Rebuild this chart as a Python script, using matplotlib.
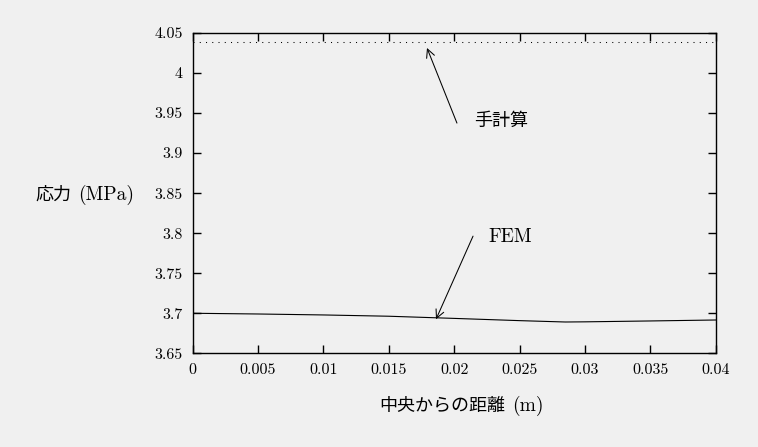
import matplotlib.pyplot as plt

# FEM の応力分布 (中央からの距離 m, 応力 MPa)
dist_m = [0.0, 0.005, 0.01, 0.015, 0.02, 0.025, 0.0285, 0.03, 0.035, 0.04]
fem_mpa = [3.7000, 3.6991, 3.6979, 3.6963, 3.6936, 3.6908, 3.6891, 3.6893, 3.6904, 3.6916]
hand_mpa = 4.0389  # 手計算

xticks = [0, 0.005, 0.01, 0.015, 0.02, 0.025, 0.03, 0.035, 0.04]
xticklabels = ['0', '0.005', '0.01', '0.015', '0.02', '0.025', '0.03', '0.035', '0.04']
yticks = [3.65, 3.7, 3.75, 3.8, 3.85, 3.9, 3.95, 4.0, 4.05]
yticklabels = ['3.65', '3.7', '3.75', '3.8', '3.85', '3.9', '3.95', '4', '4.05']

num_font = ['cmr10', 'DejaVu Serif']
jp_font = ['Noto Sans CJK JP', 'DejaVu Sans']

fig = plt.figure(figsize=(7.58, 4.47), dpi=100, facecolor='#f0f0f0')
ax = fig.add_axes([0.2542, 0.2096, 0.690, 0.7166])
ax.set_facecolor('#f0f0f0')

ax.plot(dist_m, fem_mpa, color='black', linewidth=0.8)
ax.plot([dist_m[0], dist_m[-1]], [hand_mpa, hand_mpa], color='black',
        linewidth=0.75, linestyle=(0, (1, 5)))

ax.set_xlim(0, 0.04)
ax.set_ylim(3.65, 4.05)
ax.set_xticks(xticks)
ax.set_xticklabels(xticklabels, family=num_font, fontsize=11.5)
ax.set_yticks(yticks)
ax.set_yticklabels(yticklabels, family=num_font, fontsize=11.5)
ax.tick_params(direction='in', length=5.5, width=1, top=True, right=True, pad=7)
for s in ax.spines.values():
    s.set_linewidth(1)

# 軸ラベル
fig.text(35 / 758, 1 - 195 / 447, '応力', family=jp_font, fontsize=13, ha='left', va='center')
fig.text(78 / 758, 1 - 195 / 447, '(MPa)', family=num_font, fontsize=14, ha='left', va='center')
fig.text(505 / 758, 1 - 406 / 447, '中央からの距離', family=jp_font, fontsize=13, ha='right', va='center')
fig.text(512 / 758, 1 - 406 / 447, '(m)', family=num_font, fontsize=14, ha='left', va='center')

arrow = dict(arrowstyle='->', lw=0.75, color='black', mutation_scale=15,
             shrinkA=0, shrinkB=0)
ax.annotate('', xy=(0.01792, 4.0313), xytext=(0.02021, 3.9375), arrowprops=arrow)
ax.text(0.02151, 3.940, '手計算', family=jp_font, fontsize=13, ha='left', va='center')

ax.annotate('', xy=(0.01861, 3.6925), xytext=(0.02144, 3.7963), arrowprops=arrow)
ax.text(0.02259, 3.795, 'FEM', family=num_font, fontsize=14, ha='left', va='center')

fig.savefig('out.png', dpi=100, facecolor=fig.get_facecolor())
